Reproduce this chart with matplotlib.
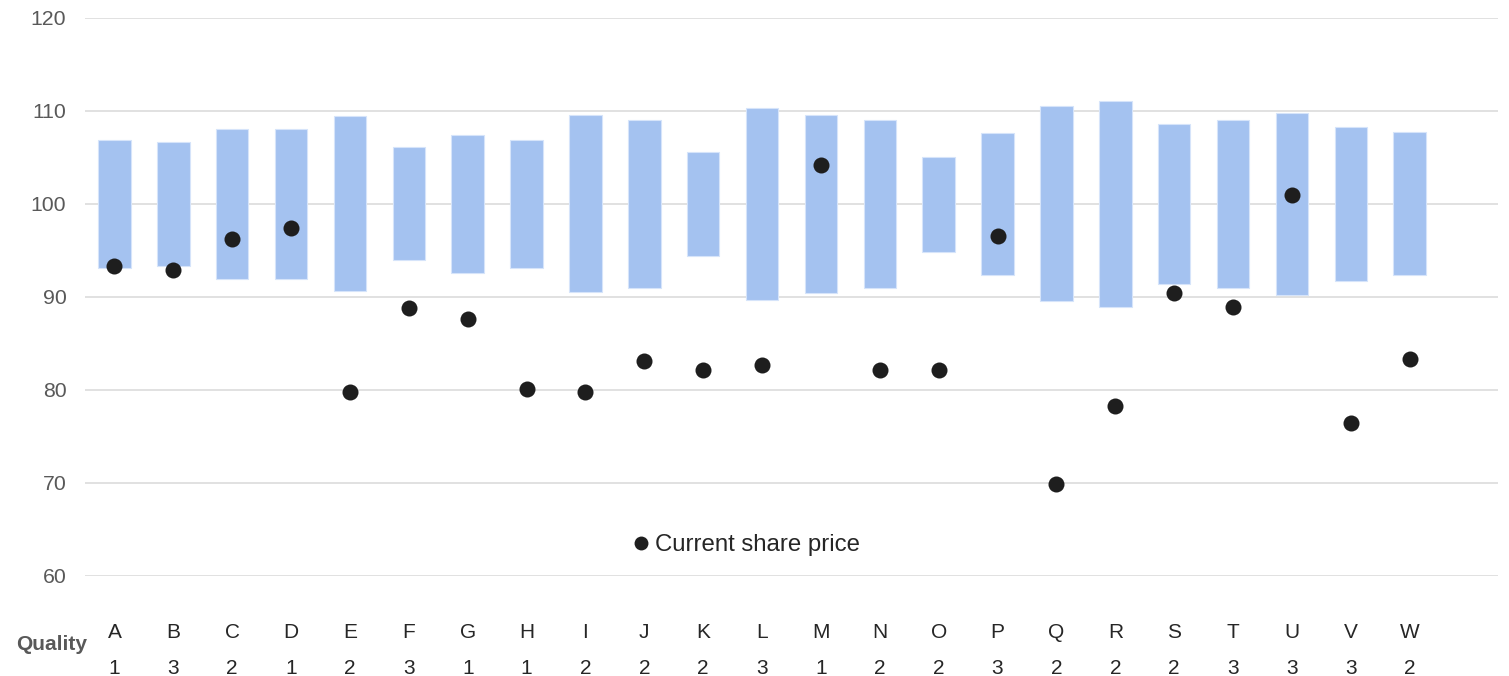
import matplotlib
matplotlib.use("Agg")
import matplotlib.pyplot as plt
from matplotlib.lines import Line2D
import matplotlib.transforms as mtransforms

plt.rcParams['font.family'] = ['Liberation Sans', 'DejaVu Sans']

companies = list("ABCDEFGHIJKLMNOPQRSTUVW")
quality = [1, 3, 2, 1, 2, 3, 1, 1, 2, 2, 2, 3, 1, 2, 2, 3, 2, 2, 2, 3, 3, 3, 2]
range_low = [93.05, 93.3, 91.9, 91.9, 90.6, 93.9, 92.6, 93.1, 90.5, 90.9, 94.4, 89.6, 90.4,
             90.9, 94.8, 92.3, 89.5, 88.9, 91.4, 90.9, 90.2, 91.7, 92.3]
range_high = [106.85, 106.6, 108.0, 108.07, 109.4, 106.06, 107.35, 106.8, 109.5, 109.03, 105.53,
              110.3, 109.54, 109.03, 105.05, 107.64, 110.5, 111.04, 108.53, 109.03, 109.75, 108.28, 107.67]
share_price = [93.33, 92.9, 96.17, 97.35, 79.75, 88.82, 87.63, 80.07, 79.75, 83.08, 82.1, 82.66,
               104.2, 82.1, 82.1, 96.53, 69.86, 78.25, 90.4, 88.93, 100.9, 76.4, 83.3]
yticks = [60, 70, 80, 90, 100, 110, 120]

W, H = 1509, 676
fig = plt.figure(figsize=(W / 100, H / 100), dpi=100)
ax = fig.add_axes([85 / W, 1 - 575.7 / H, (1498 - 85) / W, (575.7 - 17.7) / H])

x = list(range(len(companies)))
heights = [h - l for h, l in zip(range_high, range_low)]
ax.bar(x, heights, bottom=range_low, width=0.55, color='#A4C2F0',
       edgecolor='#d6e4fa', linewidth=0.8, zorder=2)
ax.scatter(x, share_price, s=133, color='#1e1e1e', zorder=3, linewidths=0)

ax.set_ylim(60, 120)
ax.set_xlim(-0.5, 23.5)
ax.set_yticks(yticks)
ax.set_yticklabels([str(v) for v in yticks], fontsize=15.3, color='#595959')
ax.tick_params(axis='y', length=0, pad=13.5)
ax.set_xticks([])
ax.grid(axis='y', color='#d9d9d9', linewidth=1.1, zorder=0)
ax.set_axisbelow(True)
for s in ax.spines.values():
    s.set_visible(False)

trans = mtransforms.blended_transform_factory(ax.transData, ax.transAxes)
for xi, c, q in zip(x, companies, quality):
    ax.text(xi, -0.1025, c, transform=trans, ha='center', va='center',
            fontsize=15, color='#262626')
    ax.text(xi, -0.1655, str(q), transform=trans, ha='center', va='center',
            fontsize=15, color='#262626')

fig.text(52 / W, 1 - 644 / H, 'Quality', ha='center', va='center',
         fontsize=15, fontweight='bold', color='#595959')

handle = Line2D([], [], marker='o', linestyle='none', markersize=10,
                markerfacecolor='#1e1e1e', markeredgewidth=0)
fig.legend([handle], ['Current share price'], loc='center',
           bbox_to_anchor=(745 / W, 1 - 545 / H), frameon=False,
           fontsize=17.3, handletextpad=0.1, handlelength=0.9,
           labelcolor='#262626')

fig.savefig('out.png', dpi=100)
